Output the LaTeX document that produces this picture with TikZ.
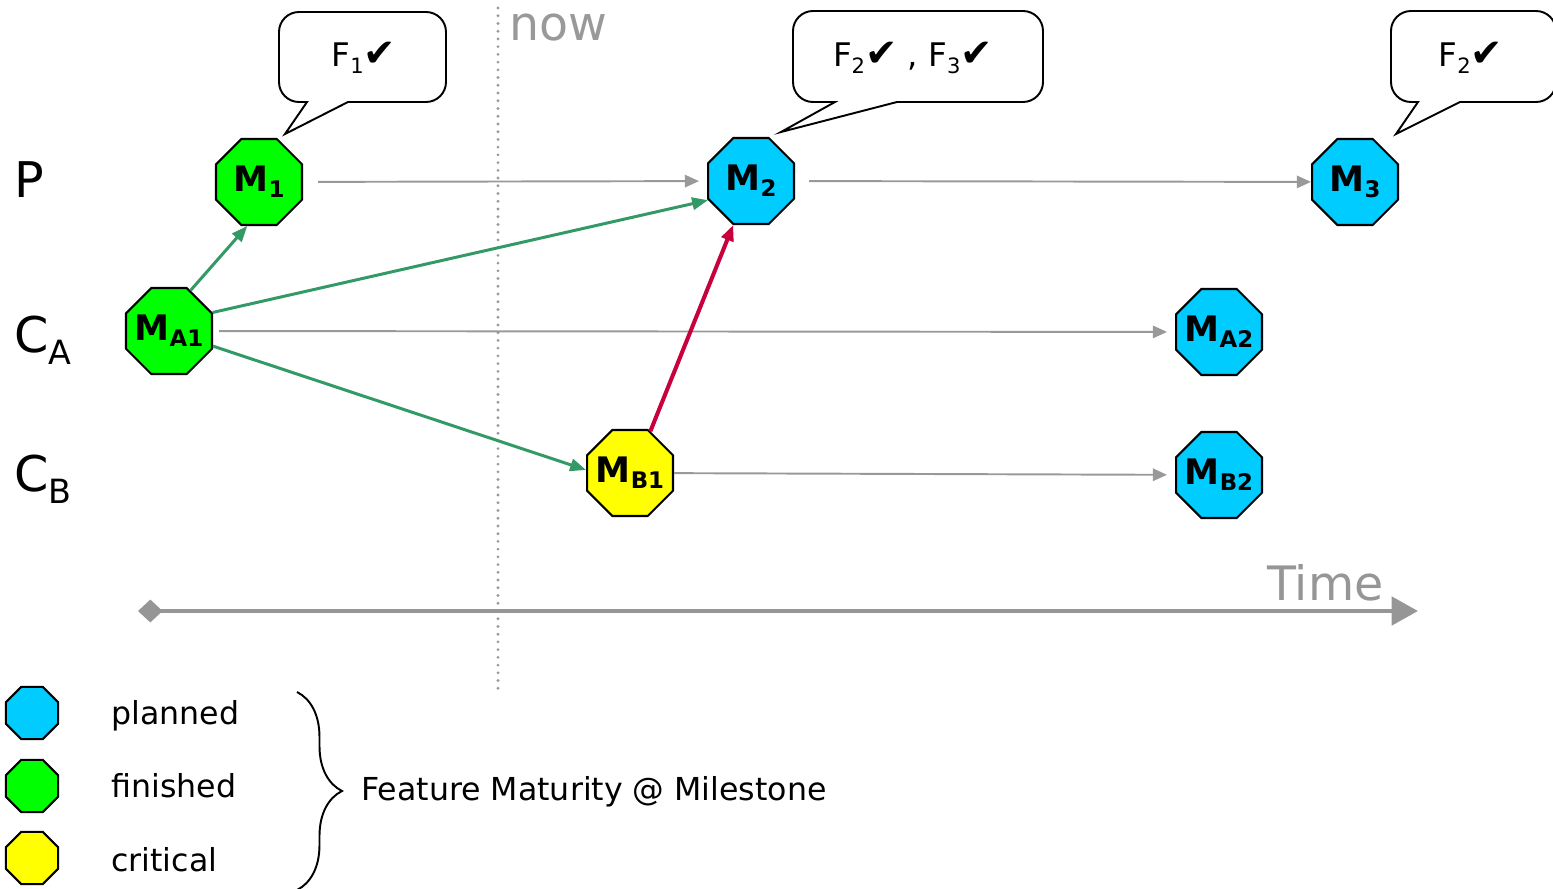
\documentclass[tikz,border=0pt]{standalone}
\usepackage{fontspec}
\setmainfont{DejaVu Sans}
\usetikzlibrary{shapes.geometric}
\usetikzlibrary{arrows.meta}
\usetikzlibrary{decorations.pathreplacing}

\definecolor{planblue}{HTML}{00CCFF}
\definecolor{donegreen}{HTML}{00FF00}
\definecolor{crityellow}{HTML}{FFFF00}
\definecolor{linkgreen}{HTML}{339966}
\definecolor{critred}{HTML}{C8003C}
\definecolor{linegray}{HTML}{999999}
\definecolor{timegray}{HTML}{969696}

\newcommand{\mlab}[1]{M\raisebox{-0.3ex}{\fontsize{13}{13}\selectfont #1}}
\newcommand{\flab}[1]{F\raisebox{-4pt}{\fontsize{12}{12}\selectfont #1}{\fontsize{22}{22}\selectfont ✔}}
\newcommand{\rlab}[2]{#1\raisebox{-7pt}{\fontsize{19}{19}\selectfont #2}}

\begin{document}
\begin{tikzpicture}[x=0.02cm,y=-0.02cm,
    stone/.style={regular polygon,regular polygon sides=8,draw=black,line width=1.2pt,
      minimum size=1.86cm,inner sep=-8pt,font=\fontsize{20}{20}\selectfont\bfseries},
    plan/.style={stone,fill=planblue},
    done/.style={stone,fill=donegreen},
    crit/.style={stone,fill=crityellow},
    key/.style={regular polygon,regular polygon sides=8,draw=black,line width=1.2pt,
      minimum size=1.13cm,inner sep=0pt},
    flow/.style={linegray,line width=1.1pt,-{Triangle[length=8pt,width=7pt]}},
    dep/.style={linkgreen,line width=1.7pt,-{Triangle[length=9pt,width=7pt]}},
    block/.style={critred,line width=2.3pt,-{Triangle[length=9pt,width=7pt]}},
    bubble/.style={draw=black,line width=1.1pt,fill=white},
    note/.style={inner sep=0pt,font=\fontsize{18.5}{18.5}\selectfont},
    rowtext/.style={anchor=base west,inner sep=0pt,font=\fontsize{28}{28}\selectfont},
    keytext/.style={anchor=base west,inner sep=0pt,font=\fontsize{18}{18}\selectfont}]
  \useasboundingbox (0,0) rectangle (1553,889);
  %
  \coordinate (nowtop) at (498,8);
  \coordinate (nowbot) at (498,692);
  \draw [linegray,line width=1.8pt,line cap=round,dash pattern=on 0pt off 4.4pt] (nowtop) -- (nowbot);
  \node [anchor=base west,inner sep=0pt,text=linegray,font=\fontsize{27}{27}\selectfont] (now) at (509,40) {now};
  %
  \coordinate (t0) at (138,611);
  \coordinate (t1) at (1418,611);
  \draw [timegray,line width=2.6pt,{Diamond[length=14pt,width=13pt]}-{Triangle[length=15pt,width=16pt]}] (t0) -- (t1);
  \node [anchor=base west,inner sep=0pt,text=timegray,font=\fontsize{27}{27}\selectfont] (time) at (1267,600) {Time};
  %
  \node [rowtext] (rowP) at (14,197) {P};
  \node [rowtext] (rowA) at (14,352) {\rlab{C}{A}};
  \node [rowtext] (rowB) at (14,491) {\rlab{C}{B}};
  %
  \node [done] (M1) at (259,182) {\mlab{1}};
  \node [plan] (M2) at (751,181) {\mlab{2}};
  \node [plan] (M3) at (1355,182) {\mlab{3}};
  \node [done] (MA1) at (169,331) {\mlab{A1}};
  \node [plan] (MA2) at (1219,332) {\mlab{A2}};
  \node [crit] (MB1) at (630,473) {\mlab{B1}};
  \node [plan] (MB2) at (1219,475) {\mlab{B2}};
  %
  \draw [flow,shorten <=0.3cm,shorten >=0.16cm] (M1) -- (M2);
  \draw [flow,shorten <=0.28cm] (M2) -- (M3);
  \draw [flow,shorten <=0.12cm,shorten >=0.16cm] (MA1) -- (MA2);
  \draw [flow,shorten >=0.16cm] (MB1) -- (MB2);
  \draw [dep] (MA1.62) -- (M1.255);
  \draw [dep] (MA1.23) -- (M2.204);
  \draw [dep] (MA1.-19) -- (MB1.176);
  \draw [block] (MB1.64) -- (M2.248);
  %
  \draw [bubble] (285,134) -- (307,102) [rounded corners=0.4cm] -- (279,102) -- (279,12)
    -- (446,12) -- (446,102) [sharp corners] -- (348,102) -- cycle;
  \draw [bubble] (781,132) -- (835,102) [rounded corners=0.4cm] -- (793,102) -- (793,11)
    -- (1043,11) -- (1043,102) [sharp corners] -- (897,102) -- cycle;
  \draw [bubble] (1396,134) -- (1418,102) [rounded corners=0.4cm] -- (1391,102) -- (1391,11)
    -- (1556,11) -- (1556,102) [sharp corners] -- (1460,102) -- cycle;
  \node [note] (f1) at (364,58) {\flab{1}};
  \node [note] (f23) at (913,58) {\flab{2} , \flab{3}};
  \node [note] (f2) at (1471,58) {\flab{2}};
  %
  \node [key,fill=planblue] (kplan) at (32,713) {};
  \node [key,fill=donegreen] (kdone) at (32,786) {};
  \node [key,fill=crityellow] (kcrit) at (32,858) {};
  \node [keytext] (tplan) at (111,724) {planned};
  \node [keytext] (tdone) at (111,797) {finished};
  \node [keytext] (tcrit) at (111,871) {critical};
  \draw [line width=1.1pt,decorate,decoration={brace,amplitude=0.9cm}] (297,692) -- (297,890);
  \node [keytext] (maturity) at (361,800) {Feature Maturity @ Milestone};
\end{tikzpicture}
\end{document}
